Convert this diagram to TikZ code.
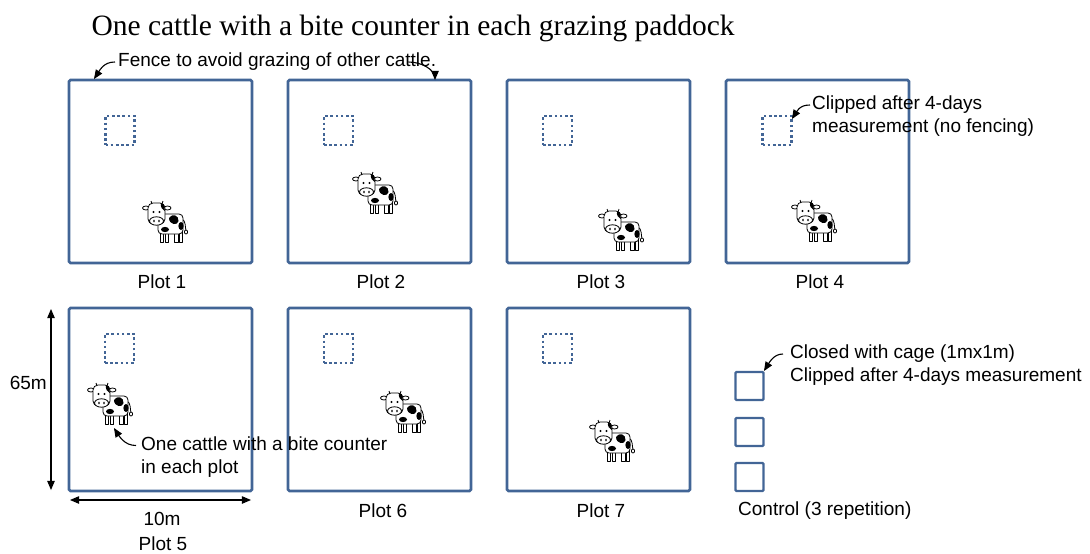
\documentclass[tikz,border=0pt]{standalone}
\usepackage{fontspec}
\setmainfont{Liberation Serif}
\setsansfont{Liberation Sans}
\usetikzlibrary{arrows,calc,positioning}

\definecolor{fence}{RGB}{66,101,150}

\tikzset{
  plot/.style={draw=fence, line width=2.6pt, rounded corners=1.5pt,
               minimum width=183pt, minimum height=183pt, inner sep=0pt},
  quad/.style={draw=fence, line width=2.8pt, dash pattern=on 2.6pt off 2.6pt,
               minimum size=29pt, inner sep=0pt},
  cage/.style={draw=fence, line width=2.3pt, rounded corners=1pt,
               minimum size=28pt, inner sep=0pt},
  lbl/.style={font=\sffamily\fontsize{19}{23}\selectfont, inner sep=0pt},
  note/.style={lbl, align=left, anchor=west},
  pointer/.style={->, >=triangle 45, line width=1.1pt},
  cow/.pic={
    \begin{scope}[line width=0.8pt, line join=round]
      % tail
      \draw (16,-3) .. controls (20,-1) and (19,5) .. (20,9);
      \draw[fill=white] (20,10) ellipse (1.6 and 2);
      % legs
      \foreach \lx in {-6,-1,8.5,13}
        \draw[fill=white] (\lx,8) rectangle ++(3.5,12);
      % body and spots
      \draw[fill=white, rounded corners=4pt] (-8,-8) rectangle (17,12);
      \fill (3,-4) .. controls (6,-9) and (13,-7) .. (12.5,-1)
                   .. controls (12,4) and (3,3) .. cycle;
      \fill (15,4) ellipse (2.6 and 4);
      \fill (-1,7.5) ellipse (4 and 2.6);
      % ears, horns and head
      \draw[fill=white] (-20,-14) ellipse (3.5 and 2);
      \draw[fill=white] (1.5,-14) ellipse (3.5 and 2);
      \draw (-14,-18) -- (-15,-21) (-4,-18) -- (-3,-21);
      \draw[fill=white, rounded corners=5pt] (-18,-19) rectangle (-1,2);
      \fill (-5,-18.5) .. controls (-1.5,-18.5) and (-1.2,-15) .. (-1.2,-11)
                       .. controls (-4,-12) and (-5.5,-15) .. cycle;
      \fill (-12.5,-10) circle (1.1) (-6.5,-10) circle (1.1);
      % muzzle
      \draw[fill=white] (-9.5,-1) ellipse (7 and 4.2);
      \fill (-12,-1) ellipse (0.9 and 1.4) (-7,-1) ellipse (0.9 and 1.4);
    \end{scope}
  }
}

\begin{document}
\begin{tikzpicture}[x=1pt, y=-1pt]
  \useasboundingbox (0,0) rectangle (1090,554);

  \node[font=\rmfamily\fontsize{29.5}{34}\selectfont, inner sep=0pt] (title)
    at (413,28) {One cattle with a bite counter in each grazing paddock};

  % paddocks
  \node[plot] (p1) at (160.5,171.5) {};
  \node[plot] (p2) at (379.5,171.5) {};
  \node[plot] (p3) at (598.5,171.5) {};
  \node[plot] (p4) at (817.5,171.5) {};
  \node[plot] (p5) at (160.5,399.5) {};
  \node[plot] (p6) at (379.5,399.5) {};
  \node[plot] (p7) at (598.5,399.5) {};

  % clipped quadrats
  \node[quad] (q1) at (120,130.5) {};
  \node[quad] (q2) at (338.5,130.5) {};
  \node[quad] (q3) at (557.5,130.5) {};
  \node[quad] (q4) at (777,130.5) {};
  \node[quad] (q5) at (119.5,348.5) {};
  \node[quad] (q6) at (338.5,348.5) {};
  \node[quad] (q7) at (557.5,348.5) {};

  % one animal per paddock
  \pic at (166,222) {cow};
  \pic at (376,193) {cow};
  \pic at (622,230) {cow};
  \pic at (815,221) {cow};
  \pic at (111,404) {cow};
  \pic at (404,412) {cow};
  \pic at (613,441) {cow};

  % control cages
  \node[cage] (k1) at (749.5,386) {};
  \node[cage] (k2) at (749.5,432) {};
  \node[cage] (k3) at (749.5,477) {};

  \node[lbl] (t1) at (162,282) {Plot 1};
  \node[lbl] (t2) at (381,282) {Plot 2};
  \node[lbl] (t3) at (601,282) {Plot 3};
  \node[lbl] (t4) at (820,282) {Plot 4};
  \node[lbl] (t6) at (383,511) {Plot 6};
  \node[lbl] (t7) at (601,511) {Plot 7};
  \node[lbl] (w5) at (162,519) {10m};
  \node[lbl] (t5) at (163,544) {Plot 5};
  \node[lbl, anchor=east] (h5) at (47,383) {65m};
  \node[note] (tc) at (738,511) {Control (3 repetition)};

  % dimensions of plot 5
  \coordinate (d1) at (51,309);
  \coordinate (d2) at (51,490);
  \coordinate (d3) at (70,500);
  \coordinate (d4) at (251,500);
  \draw[<->, >=triangle 45, line width=1.1pt] (d1) -- (d2);
  \draw[<->, >=triangle 45, line width=1.1pt] (d3) -- (d4);

  % notes
  \node[note] (nfence) at (118,62) {Fence to avoid grazing of other cattle.};
  \node[note] (nclip) at (812,116.5) {Clipped after 4-days\\measurement (no fencing)};
  \node[note] (ncow) at (141,457) {One cattle with a bite counter\\in each plot};
  \node[note] (ncage) at (790,365.5) {Closed with cage (1mx1m)\\Clipped after 4-days measurement};

  \coordinate (f1) at (94,79);
  \coordinate (f2) at (435,80);
  \coordinate (f3) at (792,119);
  \coordinate (f4) at (114,428);
  \coordinate (f5) at (764,371);

  \draw[pointer] ([xshift=-3pt]nfence.west) .. controls +(-12,0) and +(6,-9) .. (f1);
  \draw[pointer] ([xshift=-28pt]nfence.east) .. controls +(14,0) and +(0,-10) .. (f2);
  \draw[pointer] ([xshift=-2pt,yshift=11.5pt]nclip.west) .. controls +(-11,0) and +(5,-8) .. (f3);
  \draw[pointer] ([xshift=-5pt,yshift=11.5pt]ncow.west) .. controls +(-12,0) and +(5,8) .. (f4);
  \draw[pointer] ([xshift=-7pt,yshift=11.5pt]ncage.west) .. controls +(-10,0) and +(5,-8) .. (f5);
\end{tikzpicture}
\end{document}
